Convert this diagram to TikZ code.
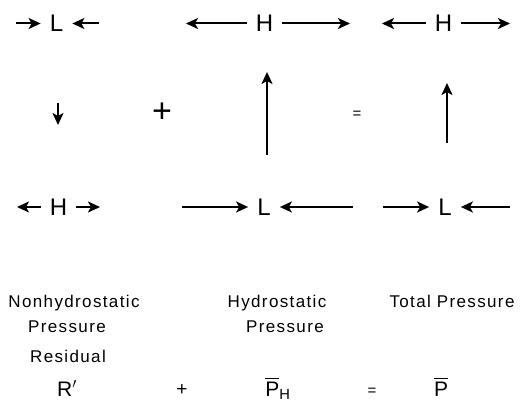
\documentclass[tikz,border=0pt]{standalone}
\usepackage{amsmath}
\usepackage{fontspec}
\setmainfont{Liberation Sans}
\newfontfamily\lblfont[LetterSpace=8]{Liberation Sans}
\usetikzlibrary{arrows.meta}

\begin{document}
\begin{tikzpicture}[x=1pt, y=-1pt,
    arr/.style={line width=2pt, -{Stealth[length=12pt, width=11pt, inset=3pt]}},
    big/.style={inner xsep=9pt, inner ysep=0pt, font=\fontsize{24}{24}\selectfont},
    lbl/.style={inner sep=0pt, anchor=base, font=\lblfont\fontsize{17}{17}\selectfont},
    sym/.style={inner sep=0pt, anchor=base, font=\fontsize{21}{21}\selectfont}]
    \useasboundingbox (0,0) rectangle (522,401);

    % Obere Reihe
    \node[big] (Ltop) at (56.5,23.5) {L};
    \node[big] (Hhtop) at (264.5,23.5) {H};
    \node[big] (Httop) at (443.5,23.5) {H};
    \coordinate (a1) at (16,23.5);
    \coordinate (a2) at (99,23.5);
    \coordinate (a3) at (186,23.5);
    \coordinate (a4) at (350,23.5);
    \coordinate (a5) at (382,23.5);
    \coordinate (a6) at (510,23.5);
    \draw[arr] (a1) -- (Ltop.west);
    \draw[arr] (a2) -- (Ltop.east);
    \draw[arr] (Hhtop.west) -- (a3);
    \draw[arr] (Hhtop.east) -- (a4);
    \draw[arr] (Httop.west) -- (a5);
    \draw[arr] (Httop.east) -- (a6);

    % Untere Reihe
    \node[big] (Hbot) at (58.5,207) {H};
    \node[big] (Lhbot) at (264,207) {L};
    \node[big] (Ltbot) at (445,207) {L};
    \coordinate (b1) at (17,207);
    \coordinate (b2) at (100,207);
    \coordinate (b3) at (182,207);
    \coordinate (b4) at (353,207);
    \coordinate (b5) at (383,207);
    \coordinate (b6) at (510,207);
    \draw[arr] (Hbot.west) -- (b1);
    \draw[arr] (Hbot.east) -- (b2);
    \draw[arr] (b3) -- (Lhbot.west);
    \draw[arr] (b4) -- (Lhbot.east);
    \draw[arr] (b5) -- (Ltbot.west);
    \draw[arr] (b6) -- (Ltbot.east);

    % Mitte: vertikale Bewegung
    \coordinate (v1) at (58,103);
    \coordinate (v2) at (58,125);
    \coordinate (v3) at (267,155);
    \coordinate (v4) at (267,72);
    \coordinate (v5) at (447,143);
    \coordinate (v6) at (447,83);
    \draw[arr] (v1) -- (v2);
    \draw[arr] (v3) -- (v4);
    \draw[arr] (v5) -- (v6);
    \node[inner sep=0pt, font=\fontsize{34}{34}\selectfont] (plus) at (162,113) {+};
    \node[inner sep=0pt, font=\fontsize{15}{15}\selectfont] (eq) at (357,115) {=};

    % Beschriftung
    \node[lbl] (nh1) at (74,307) {Nonhydrostatic};
    \node[lbl] (nh2) at (67,332) {Pressure};
    \node[lbl] (nh3) at (68,362) {Residual};
    \node[lbl] (hy1) at (277,307) {Hydrostatic};
    \node[lbl] (hy2) at (285,332) {Pressure};
    \node[lbl] (tp1) at (452,307) {Total Pressure};

    % Gleichung
    \node[sym] (R) at (67,396) {R$'$};
    \node[sym, font=\fontsize{19}{19}\selectfont] (plus2) at (182,395) {+};
    \node[sym] (PH) at (278,396) {$\overline{\text{P}}_{\text{H}}$};
    \node[sym, font=\fontsize{15}{15}\selectfont] (eq2) at (372,395) {=};
    \node[sym] (P) at (441,396) {$\overline{\text{P}}$};
\end{tikzpicture}
\end{document}
